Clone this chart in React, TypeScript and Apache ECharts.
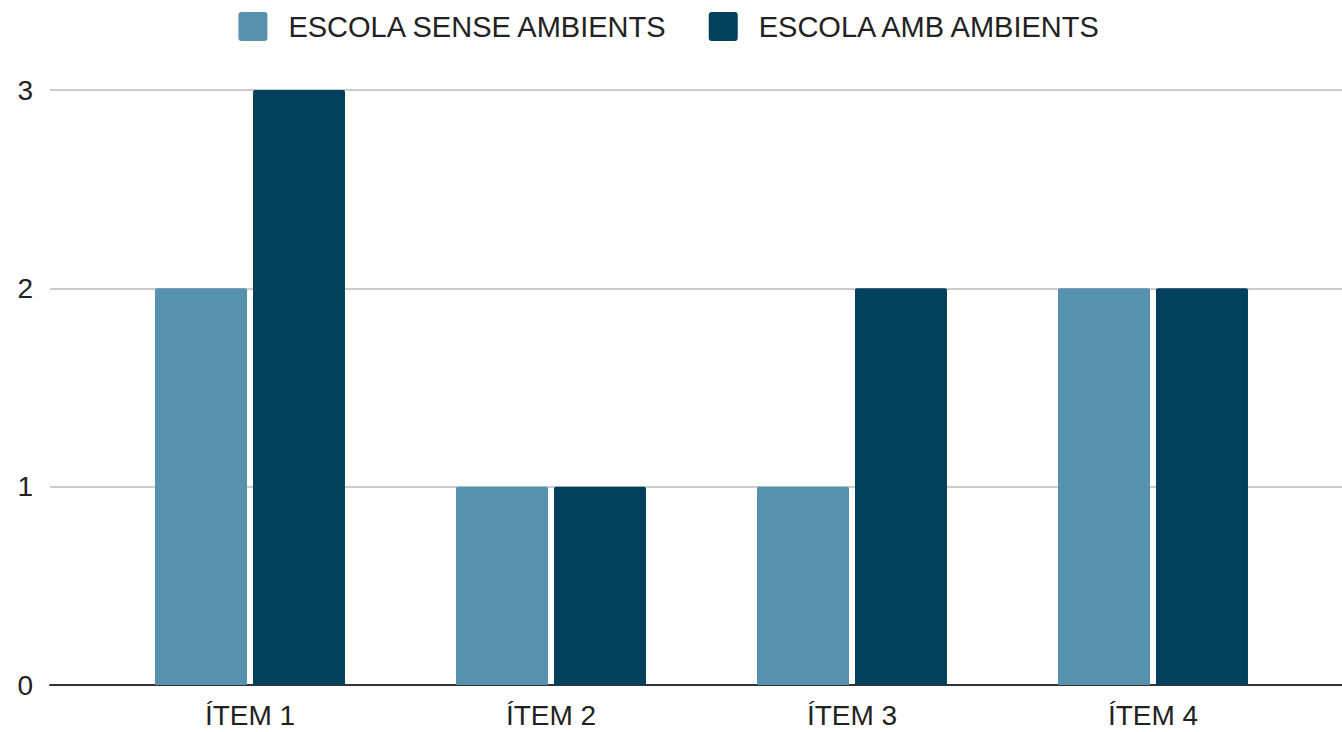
import React, { useEffect, useRef } from "react";
import * as echarts from "echarts";

const categories = ["ÍTEM 1", "ÍTEM 2", "ÍTEM 3", "ÍTEM 4"];
const seriesNames = ["ESCOLA SENSE AMBIENTS", "ESCOLA AMB AMBIENTS"];
const senseAmbients = [2, 1, 1, 2];
const ambAmbients = [3, 1, 2, 2];
const yTicks = [0, 1, 2, 3];

const FONT = "'Liberation Sans', Arial, sans-serif";
const SWATCH = "path://M3,0H26Q29,0 29,3V26Q29,29 26,29H3Q0,29 0,26V3Q0,0 3,0Z";

export default function App() {
  const ref = useRef<HTMLDivElement>(null);
  useEffect(() => {
    document.body.style.margin = "0";
    if (!ref.current) return;
    const chart = echarts.init(ref.current, undefined, { renderer: "svg" });
    const yMin = yTicks[0];
    const yMax = yTicks[yTicks.length - 1];
    chart.setOption({
      animation: false,
      textStyle: { fontFamily: FONT },
      legend: {
        data: seriesNames,
        top: 7,
        left: "center",
        icon: SWATCH,
        itemWidth: 29,
        itemHeight: 29,
        itemGap: 40,
        textStyle: { fontSize: 29, color: "#222", fontFamily: FONT, padding: [0, 0, 0, 16] },
      },
      grid: [
        { left: 50, right: 0, top: 90, bottom: 47 },
        { left: 99.5, right: 38.5, top: 90, bottom: 47 },
      ],
      xAxis: [
        {
          type: "category",
          gridIndex: 0,
          data: categories,
          axisLabel: { show: false },
          axisTick: { show: false },
          axisLine: { show: true, lineStyle: { color: "#333", width: 2 } },
        },
        {
          type: "category",
          gridIndex: 1,
          data: categories,
          axisLine: { show: false },
          axisTick: { show: false },
          axisLabel: { fontSize: 28, color: "#222", fontFamily: FONT, margin: 16 },
        },
      ],
      yAxis: [
        {
          type: "value",
          gridIndex: 0,
          min: yMin,
          max: yMax,
          interval: 1,
          axisLabel: { fontSize: 28, color: "#222", fontFamily: FONT, margin: 17 },
          axisLine: { show: false },
          axisTick: { show: false },
          splitLine: { lineStyle: { color: "#cccccc", width: 2 } },
        },
        {
          type: "value",
          gridIndex: 1,
          min: yMin,
          max: yMax,
          interval: 1,
          show: false,
          splitLine: { show: false },
        },
      ],
      series: [
        {
          name: seriesNames[0],
          type: "bar",
          xAxisIndex: 1,
          yAxisIndex: 1,
          data: senseAmbients,
          barWidth: 92,
          barGap: "6.5%",
          itemStyle: { color: "#5891ad", borderRadius: [2, 2, 0, 0] },
        },
        {
          name: seriesNames[1],
          type: "bar",
          xAxisIndex: 1,
          yAxisIndex: 1,
          data: ambAmbients,
          barWidth: 92,
          barGap: "6.5%",
          itemStyle: { color: "#03405c", borderRadius: [2, 2, 0, 0] },
        },
      ],
    });
    return () => chart.dispose();
  }, []);
  return <div ref={ref} style={{ width: 1342, height: 732 }} />;
}
